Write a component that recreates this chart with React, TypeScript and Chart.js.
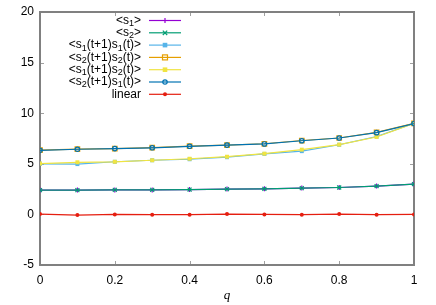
import React, { useEffect, useRef } from "react";
import { Chart, registerables } from "chart.js";

Chart.register(...registerables);

const qValues = [0, 0.1, 0.2, 0.3, 0.4, 0.5, 0.6, 0.7, 0.8, 0.9, 1];
const s1Mean = [2.4, 2.4, 2.42, 2.42, 2.45, 2.5, 2.53, 2.6, 2.66, 2.8, 3.0];
const s2Mean = [2.4, 2.4, 2.42, 2.42, 2.45, 2.5, 2.53, 2.6, 2.66, 2.8, 3.0];
const s1s1 = [5.0, 4.97, 5.2, 5.35, 5.45, 5.65, 5.98, 6.25, 6.88, 7.7, 9.0];
const s2s2 = [6.35, 6.45, 6.5, 6.6, 6.75, 6.85, 6.98, 7.3, 7.55, 8.1, 9.0];
const s1s2 = [5.02, 5.15, 5.2, 5.35, 5.5, 5.7, 6.0, 6.4, 6.9, 7.65, 9.0];
const s2s1 = [6.33, 6.44, 6.5, 6.58, 6.73, 6.85, 6.96, 7.28, 7.55, 8.08, 8.98];
const linear = [0.03, -0.07, 0, -0.03, -0.03, 0.03, 0, -0.03, 0.03, -0.03, 0];

const xTicks = [0, 0.2, 0.4, 0.6, 0.8, 1];
const yTicks = [-5, 0, 5, 10, 15, 20];

// label segments: [text, isSubscript]
type Seg = [string, boolean];
const seriesLabels: Seg[][] = [
  [["<s", false], ["1", true], [">", false]],
  [["<s", false], ["2", true], [">", false]],
  [["<s", false], ["1", true], ["(t+1)s", false], ["1", true], ["(t)>", false]],
  [["<s", false], ["2", true], ["(t+1)s", false], ["2", true], ["(t)>", false]],
  [["<s", false], ["1", true], ["(t+1)s", false], ["2", true], ["(t)>", false]],
  [["<s", false], ["2", true], ["(t+1)s", false], ["1", true], ["(t)>", false]],
  [["linear", false]],
];
const seriesData = [s1Mean, s2Mean, s1s1, s2s2, s1s2, s2s1, linear];
const seriesColors = ["#9400d3", "#009e73", "#56b4e9", "#e69f00", "#f0e442", "#0072b2", "#e51e10"];
const seriesMarkers = ["cross", "crossRot", "rectFill", "rectOpen", "rectFill", "circleOpen", "circleFill"];

const FONT = '"Liberation Sans", Arial, sans-serif';

function drawMarker(ctx: CanvasRenderingContext2D, kind: string, x: number, y: number, color: string) {
  ctx.save();
  ctx.strokeStyle = color;
  ctx.fillStyle = color;
  ctx.lineWidth = 1.2;
  ctx.beginPath();
  if (kind === "cross") {
    ctx.moveTo(x, y - 2.5); ctx.lineTo(x, y + 2.5);
    ctx.stroke();
  } else if (kind === "crossRot") {
    ctx.moveTo(x - 2.2, y - 2.2); ctx.lineTo(x + 2.2, y + 2.2);
    ctx.moveTo(x - 2.2, y + 2.2); ctx.lineTo(x + 2.2, y - 2.2);
    ctx.stroke();
  } else if (kind === "rectFill") {
    ctx.fillRect(x - 2.3, y - 2.3, 4.6, 4.6);
  } else if (kind === "rectOpen") {
    ctx.strokeRect(x - 2.5, y - 2.5, 5, 5);
  } else if (kind === "circleOpen") {
    ctx.arc(x, y, 2.2, 0, Math.PI * 2);
    ctx.stroke();
  } else {
    ctx.arc(x, y, 2, 0, Math.PI * 2);
    ctx.fill();
  }
  ctx.restore();
}

const framePlugin = {
  id: "frame",
  beforeDatasetsDraw(chart: any) {
    const { ctx, chartArea: a } = chart;
    const xs = chart.scales.x;
    const ys = chart.scales.y;
    ctx.save();
    ctx.strokeStyle = "#a0a0a0";
    ctx.lineWidth = 1;
    for (const v of xTicks) {
      const px = Math.round(xs.getPixelForValue(v)) + 0.5;
      ctx.beginPath();
      ctx.moveTo(px, a.bottom); ctx.lineTo(px, a.bottom - 4);
      ctx.moveTo(px, a.top); ctx.lineTo(px, a.top + 4);
      ctx.stroke();
    }
    for (const v of yTicks) {
      const py = Math.round(ys.getPixelForValue(v)) + 0.5;
      ctx.beginPath();
      ctx.moveTo(a.left, py); ctx.lineTo(a.left + 4, py);
      ctx.moveTo(a.right, py); ctx.lineTo(a.right - 4, py);
      ctx.stroke();
    }
    ctx.strokeStyle = "#808080";
    ctx.lineWidth = 2;
    ctx.strokeRect(a.left, a.top, a.right - a.left, a.bottom - a.top);
    ctx.restore();
  },
  afterDraw(chart: any) {
    const { ctx } = chart;
    ctx.save();
    // axis title
    ctx.fillStyle = "#000";
    ctx.font = 'italic 13px "Liberation Serif", "DejaVu Serif", serif';
    ctx.textAlign = "center";
    ctx.textBaseline = "middle";
    ctx.fillText("q", 227, 296);
    // legend
    const rightX = 141;
    const lineX0 = 149;
    const lineX1 = 181;
    ctx.textAlign = "left";
    ctx.textBaseline = "middle";
    seriesLabels.forEach((segs, i) => {
      const y = 20.5 + i * 12.3;
      let total = 0;
      for (const [t, sub] of segs) {
        ctx.font = (sub ? "9px " : "12px ") + FONT;
        total += ctx.measureText(t).width;
      }
      let x = rightX - total;
      for (const [t, sub] of segs) {
        ctx.font = (sub ? "9px " : "12px ") + FONT;
        ctx.fillText(t, x, sub ? y + 3 : y);
        x += ctx.measureText(t).width;
      }
      ctx.strokeStyle = seriesColors[i];
      ctx.lineWidth = 1.2;
      ctx.beginPath();
      ctx.moveTo(lineX0, y);
      ctx.lineTo(lineX1, y);
      ctx.stroke();
      drawMarker(ctx, seriesMarkers[i], (lineX0 + lineX1) / 2, y, seriesColors[i]);
    });
    ctx.restore();
  },
};

function markerOptions(kind: string, color: string) {
  switch (kind) {
    case "cross":
      return { pointStyle: "cross", pointRadius: 2.5, pointBorderWidth: 1.2, pointBackgroundColor: color };
    case "crossRot":
      return { pointStyle: "crossRot", pointRadius: 2.8, pointBorderWidth: 1.2, pointBackgroundColor: color };
    case "rectFill":
      return { pointStyle: "rect", pointRadius: 2.8, pointBorderWidth: 0, pointBackgroundColor: color };
    case "rectOpen":
      return { pointStyle: "rect", pointRadius: 3.2, pointBorderWidth: 1.2, pointBackgroundColor: "rgba(0,0,0,0)" };
    case "circleOpen":
      return { pointStyle: "circle", pointRadius: 2.2, pointBorderWidth: 1.2, pointBackgroundColor: "rgba(0,0,0,0)" };
    default:
      return { pointStyle: "circle", pointRadius: 2, pointBorderWidth: 0, pointBackgroundColor: color };
  }
}

export default function App() {
  const ref = useRef<HTMLCanvasElement | null>(null);
  useEffect(() => {
    if (!ref.current) return;
    const datasets = seriesData.map((vals, i) => ({
      label: seriesLabels[i].map((s) => s[0]).join(""),
      data: qValues.map((q, j) => ({ x: q, y: vals[j] })),
      borderColor: seriesColors[i],
      pointBorderColor: seriesColors[i],
      borderWidth: 1.2,
      tension: 0,
      fill: false,
      order: seriesData.length - i,
      ...markerOptions(seriesMarkers[i], seriesColors[i]),
    }));
    const chart = new Chart(ref.current, {
      type: "line",
      data: { datasets },
      plugins: [framePlugin],
      options: {
        responsive: false,
        animation: false,
        devicePixelRatio: 1,
        layout: { padding: { top: 12, right: 22, left: 0, bottom: 0 } },
        plugins: { legend: { display: false }, tooltip: { enabled: false } },
        scales: {
          x: {
            type: "linear",
            min: 0,
            max: 1,
            afterBuildTicks: (s: any) => { s.ticks = xTicks.map((v) => ({ value: v })); },
            afterFit: (s: any) => { s.height = 40; s.paddingLeft = 0; s.paddingRight = 0; },
            grid: { display: false, drawTicks: false },
            border: { display: false },
            ticks: {
              color: "#000",
              padding: 8,
              maxRotation: 0,
              autoSkip: false,
              font: { family: FONT, size: 12 },
              callback: (v: any) => String(Math.round(Number(v) * 10) / 10),
            },
          },
          y: {
            type: "linear",
            min: -5,
            max: 20,
            afterBuildTicks: (s: any) => { s.ticks = yTicks.map((v) => ({ value: v })); },
            afterFit: (s: any) => { s.width = 40; s.paddingTop = 0; s.paddingBottom = 0; },
            grid: { display: false, drawTicks: false },
            border: { display: false },
            ticks: {
              color: "#000",
              padding: 6,
              autoSkip: false,
              font: { family: FONT, size: 12 },
              callback: (v: any) => String(v),
            },
          },
        },
      },
    } as any);
    return () => chart.destroy();
  }, []);
  return (
    <div style={{ position: "fixed", left: 0, top: 0, width: 436, height: 305, background: "#fff" }}>
      <canvas ref={ref} width={436} height={305} style={{ display: "block" }} />
    </div>
  );
}
